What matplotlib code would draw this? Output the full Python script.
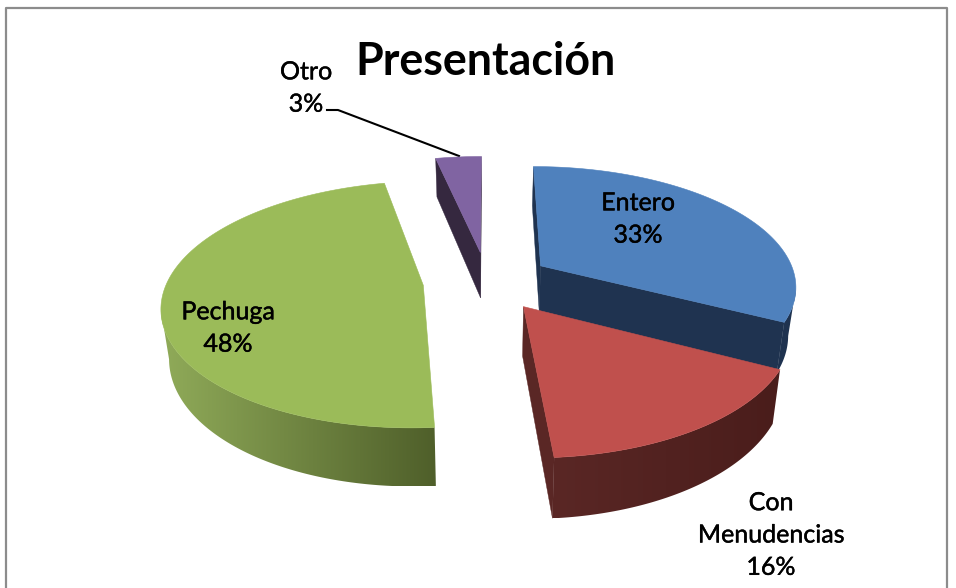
import numpy as np
import matplotlib
matplotlib.use("Agg")
import matplotlib.pyplot as plt
import matplotlib.patheffects as pe
from matplotlib.colors import to_rgb
from matplotlib.patches import Polygon

labels = ["Entero", "Con\nMenudencias", "Pechuga", "Otro"]
values = [32.6, 16.2, 47.8, 3.4]
top_colors = ["#4F81BD", "#C0504D", "#9BBB59", "#8064A2"]
wall_left = ["#1F3350", "#5A2725", "#90AB59", "#35283F"]
wall_right = ["#1F3350", "#4A1D1B", "#4F5F2A", "#35283F"]
label_xy = [(638, 219), (771, 535), (228, 328), (306, 88)]

# projection of the tilted pie (pixels)
cx, cy = 487, 281
a, b = 256, 119
k = 0.155
depth = 47.5
shrink = 0.975  # bottom face is a bit narrower than the top
explode = 0.25


def project(u, v):
    s = 1 + k * v
    return cx + a * u / s, cy - b * v / s, depth / s ** 1.2


fig = plt.figure(figsize=(9.56, 5.88), dpi=100)
ax = fig.add_axes([0, 0, 1, 1])
ax.axis("off")

# chart frame
ax.plot([6.5, 6.5, 947.5, 947.5], [588, 8, 8, 588], color="#8C8C8C", lw=1.6, zorder=0)

edges = np.cumsum([0] + values) / sum(values) * 2 * np.pi
order = [3, 0, 2, 1]  # back to front

for z, i in enumerate(order):
    t = np.linspace(edges[i], edges[i + 1], 200)
    mid = (edges[i] + edges[i + 1]) / 2
    ox, oy = explode * np.sin(mid), explode * np.cos(mid)
    Xt, Yt, Dt = project(ox + np.sin(t), oy + np.cos(t))
    Xa, Ya, Da = project(ox, oy)
    base = 2 + z * 3

    # flat side faces, only the ones that face the viewer
    for (x0, y0, d0), (x1, y1, d1) in [((Xa, Ya, Da), (Xt[0], Yt[0], Dt[0])),
                                       ((Xt[-1], Yt[-1], Dt[-1]), (Xa, Ya, Da))]:
        if x1 < x0:
            quad = [(x0, y0), (x1, y1), (cx + (x1 - cx) * shrink, y1 + d1), (cx + (x0 - cx) * shrink, y0 + d0)]
            side = wall_left[i] if i != 0 else wall_right[i]
            ax.add_patch(Polygon(quad, closed=True, fc=side, ec=side, lw=0.3, zorder=base))

    # rim wall, shaded left to right
    seen = np.r_[np.diff(Xt) < 0, False] | np.r_[False, np.diff(Xt) < 0]
    if seen.any():
        xs, ys, ds = Xt[seen], Yt[seen], Dt[seen]
        xb = cx + (xs - cx) * shrink
        outline = np.r_[np.c_[xs, ys], np.c_[xb, ys + ds][::-1]]
        clip = Polygon(outline, closed=True, transform=ax.transData)
        x_lo, x_hi = outline[:, 0].min(), outline[:, 0].max()
        y_lo, y_hi = outline[:, 1].min(), outline[:, 1].max()
        ramp = np.linspace(to_rgb(wall_left[i]), to_rgb(wall_right[i]), 256)[None, :, :]
        im = ax.imshow(ramp, extent=[x_lo, x_hi, y_hi, y_lo], aspect="auto", interpolation="bilinear", zorder=base)
        im.set_clip_path(clip)

    top = np.r_[[[Xa, Ya]], np.c_[Xt, Yt]]
    ax.add_patch(Polygon(top, closed=True, fc=top_colors[i], ec=top_colors[i], lw=0.4, zorder=base + 1))

ax.set_xlim(0, 956)
ax.set_ylim(588, 0)

for lab, val, (x, y) in zip(labels, values, label_xy):
    ax.text(x, y, f"{lab}\n{val:.0f}%", ha="center", va="center", fontsize=18, family="Lato",
            linespacing=1.49, color="black", zorder=30,
            path_effects=[pe.withStroke(linewidth=0.3, foreground="black")])

ax.text(486, 62, "Presentación", ha="center", va="center", fontsize=32.2, family="Lato",
        fontweight="bold", color="black", zorder=30)

# leader line for Otro
ax.plot([327, 338, 459], [110, 110, 156], color="black", lw=1.5, zorder=1)

fig.savefig("out.png", dpi=100)
